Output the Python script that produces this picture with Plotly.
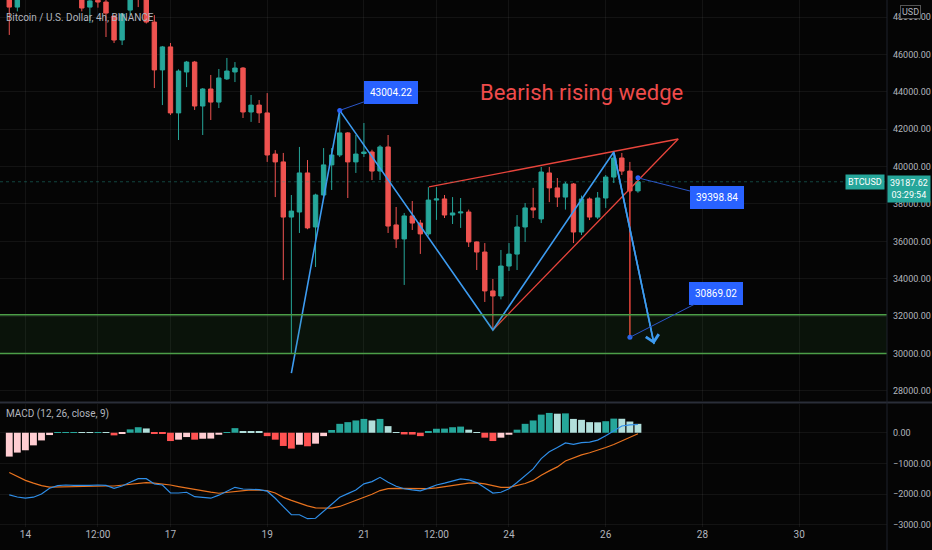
import plotly.graph_objects as go

# 4h candles, May 13 16:00 -> May 26 16:00 (index 0..78)
opens = [49600, 48530, 49300, 50200, 50900, 50300, 49800, 50100, 49500, 49400,
         48530, 48900, 48800, 48050, 46770, 48370, 49300, 49050, 47730, 45170,
         46400, 42870, 45060, 45590, 43240, 44150, 43450, 44690, 45060, 45270,
         42920, 43290, 42870, 40670, 40250, 37300, 37570, 39660, 36770, 38480,
         40090, 40620, 41800, 40250, 40700, 40780, 39760, 41050, 36880, 36130,
         37360, 36980, 36400, 38210, 38270, 37410, 37520, 37570, 35970, 35430,
         33350, 33080, 34680, 35320, 36770, 37790, 37200, 39660, 38860, 38370,
         39070, 36500, 38270, 37300, 38320, 39440, 40460, 39760, 38700]
highs = [49800, 49700, 50500, 51300, 51400, 50800, 50400, 50300, 49900, 49600,
         49000, 49100, 49000, 48100, 48200, 49300, 49500, 49200, 48100, 46450,
         46610, 45200, 45650, 45650, 44200, 44900, 45220, 45810, 45590, 45320,
         43830, 43560, 43930, 40880, 40730, 38480, 41050, 40350, 38550, 40990,
         40990, 43004, 41850, 41690, 42330, 40900, 41150, 41690, 37840, 37520,
         38160, 37150, 38900, 38900, 38480, 38370, 38320, 37700, 36000, 35910,
         33990, 35540, 35910, 37410, 38050, 38860, 39980, 39980, 39390, 39180,
         39120, 38450, 38350, 38640, 39550, 40780, 40730, 40250, 39390]
lows = [47040, 48300, 49100, 49900, 50000, 49600, 49300, 49200, 49000, 48300,
        47680, 48500, 46930, 46610, 46500, 48100, 48530, 47650, 44200, 43290,
        42760, 41420, 44250, 43030, 41690, 42490, 43130, 44630, 44520, 42600,
        42390, 42330, 40250, 38370, 33930, 30000, 36450, 36650, 34630, 38400,
        38750, 40510, 38320, 39660, 40510, 39280, 39280, 36450, 35650, 33670,
        36610, 35330, 36300, 37150, 37250, 36930, 36720, 35700, 34470, 32760,
        31260, 32900, 34420, 34470, 35970, 37250, 36980, 38100, 37840, 37700,
        35910, 36340, 37140, 37200, 37790, 39120, 39550, 38590, 38600]
closes = [48530, 49300, 50200, 50900, 50300, 49800, 50100, 49500, 49400, 48480,
          48860, 48800, 48210, 46770, 48160, 49100, 49050, 47730, 45170, 46400,
          42870, 45110, 45590, 43240, 44150, 43450, 44740, 45110, 45270, 42920,
          43290, 42870, 40620, 40250, 37300, 37620, 39660, 36720, 38480, 40090,
          40620, 41800, 40250, 40670, 40780, 39760, 41050, 36820, 36130, 37360,
          36980, 36400, 38210, 38270, 37410, 37520, 37570, 35970, 35430, 33350,
          33080, 34680, 35320, 36770, 37790, 37680, 39710, 38860, 38370, 39070,
          36500, 38270, 37300, 38320, 39440, 40460, 39760, 38700, 39187.62]

macd = [-2021, -2090, -2129, -2096, -1990, -1806, -1720, -1699, -1710, -1720,
        -1710, -1699, -1710, -1806, -1731, -1610, -1494, -1494, -1666, -1700,
        -1956, -1960, -1935, -2080, -2100, -2129, -2030, -1900, -1774, -1830,
        -1840, -1850, -1900, -2129, -2400, -2666, -2666, -2795, -2780, -2560,
        -2350, -2100, -1980, -1860, -1660, -1590, -1450, -1610, -1740, -1820,
        -1860, -1892, -1800, -1700, -1640, -1580, -1500, -1530, -1620, -1790,
        -1960, -1935, -1820, -1620, -1400, -1175, -840, -620, -480, -330,
        -375, -320, -303, -240, -100, 60, 220, 258, 269]
signal = [-1290, -1430, -1550, -1640, -1720, -1765, -1760, -1740, -1731, -1731,
          -1731, -1731, -1731, -1731, -1700, -1680, -1650, -1623, -1640, -1660,
          -1700, -1750, -1800, -1840, -1890, -1930, -1967, -1940, -1900, -1880,
          -1860, -1870, -1880, -1960, -2100, -2200, -2300, -2380, -2440, -2451,
          -2450, -2397, -2300, -2210, -2100, -2000, -1880, -1820, -1806, -1806,
          -1810, -1825, -1820, -1790, -1750, -1720, -1685, -1640, -1630, -1660,
          -1720, -1774, -1774, -1720, -1650, -1550, -1380, -1240, -1110, -920,
          -820, -720, -650, -570, -480, -380, -260, -140, -32]
hist = [-775, -645, -570, -410, -250, -75, 10, 15, 20, 10,
        5, 15, 8, -85, -30, 110, 180, 140, -30, -35,
        -270, -225, -140, -225, -195, -190, -65, 15, 150, 50,
        45, 40, -110, -225, -430, -515, -390, -440, -355, -110,
        90, 290, 345, 400, 450, 400, 450, 215, 5, -55,
        -60, -110, 55, 130, 135, 180, 200, 100, 10, -160,
        -270, -160, -65, 100, 290, 400, 590, 645, 620, 630,
        450, 420, 345, 340, 375, 460, 455, 365, 290]

tick_pos = [2, 11, 20, 32, 44, 53, 62, 74, 86, 98]
tick_text = ["14", "12:00", "17", "19", "21", "12:00", "24", "26", "28", "30"]
price_ticks = [28000, 30000, 32000, 34000, 36000, 38000, 40000, 42000, 44000, 46000, 48000]
macd_ticks = [0, -1000, -2000, -3000]

# drawings
zig_x = [35, 41, 60, 75]
zig_y = [28950, 43004.22, 31260, 40780]
arrow_end = (80, 30510)
wedge_top_x = [52.07, 83]
wedge_top_y = [38910, 41476]
wedge_low_x = [60, 83]
wedge_low_y = [31260, 41476]
target_x = [77, 77]
target_y = [39398.84, 30869.02]
zone_low, zone_high = 30000, 32070
last_price = 39187.62

UP = "#26a69a"
DOWN = "#ef5350"
BLUE = "#3d9bf0"
LABEL_BLUE = "#2962ff"
RED_LINE = "#e8453c"
TXT = "#b2b5be"
GRID = "rgba(255,255,255,0.06)"
BG = "#050505"
FONT = "Roboto, sans-serif"

idx = list(range(len(closes)))

# histogram colours: TradingView rule (grow/fall above/below zero)
bar_colors = []
for i, v in enumerate(hist):
    prev = hist[i - 1] if i > 0 else v
    if v >= 0:
        bar_colors.append(UP if v >= prev else "#b2dfdb")
    else:
        bar_colors.append("#ff5252" if v < prev else "#ffcdd2")

fig = go.Figure()

fig.add_trace(go.Candlestick(
    x=idx, open=opens, high=highs, low=lows, close=closes,
    increasing=dict(line=dict(color=UP, width=1), fillcolor=UP),
    decreasing=dict(line=dict(color=DOWN, width=1), fillcolor=DOWN),
    whiskerwidth=0, showlegend=False, hoverinfo="skip",
))

fig.add_trace(go.Bar(x=idx, y=hist, marker=dict(color=bar_colors, line=dict(width=0)),
                     yaxis="y2", showlegend=False, hoverinfo="skip"))
fig.add_trace(go.Scatter(x=idx, y=signal, mode="lines", line=dict(color="#e8731f", width=1.2),
                         yaxis="y2", showlegend=False, hoverinfo="skip"))
fig.add_trace(go.Scatter(x=idx, y=macd, mode="lines", line=dict(color="#2f8ee8", width=1.2),
                         yaxis="y2", showlegend=False, hoverinfo="skip"))

# support zone
fig.add_hrect(y0=zone_low, y1=zone_high, yref="y", fillcolor="rgba(60,150,60,0.10)", line_width=0)
for lvl in (zone_low, zone_high):
    fig.add_hline(y=lvl, yref="y", line=dict(color="#4c9e48", width=1.5))

# last price dotted line
fig.add_hline(y=last_price, yref="y", line=dict(color=UP, width=1, dash="dot"), opacity=0.4)

# wedge
fig.add_trace(go.Scatter(x=wedge_top_x, y=wedge_top_y, mode="lines",
                         line=dict(color=RED_LINE, width=1.3), showlegend=False, hoverinfo="skip"))
fig.add_trace(go.Scatter(x=wedge_low_x, y=wedge_low_y, mode="lines",
                         line=dict(color=RED_LINE, width=1.3), showlegend=False, hoverinfo="skip"))
fig.add_trace(go.Scatter(x=target_x, y=target_y, mode="lines",
                         line=dict(color=RED_LINE, width=1.5), showlegend=False, hoverinfo="skip"))

# zigzag
fig.add_trace(go.Scatter(x=zig_x + [arrow_end[0]], y=zig_y + [arrow_end[1]], mode="lines",
                         line=dict(color=BLUE, width=1.6), showlegend=False, hoverinfo="skip"))
fig.add_annotation(x=arrow_end[0], y=arrow_end[1], ax=zig_x[-1], ay=zig_y[-1],
                   axref="x", ayref="y", xref="x", yref="y", text="",
                   showarrow=True, arrowhead=4, arrowsize=1.6, arrowwidth=1.6, arrowcolor=BLUE)

# price labels
label_pts = [(41, 43004.22, 51, -18), (78, 39398.84, 79, 20), (77, 30869.02, 86, -44)]
fig.add_trace(go.Scatter(x=[p[0] for p in label_pts], y=[p[1] for p in label_pts], mode="markers",
                         marker=dict(color=LABEL_BLUE, size=5), showlegend=False, hoverinfo="skip"))
for px_, py_, dx, dy in label_pts:
    fig.add_annotation(x=px_, y=py_, xref="x", yref="y", text=f"{py_:.2f}",
                       ax=dx, ay=dy, showarrow=True, arrowhead=0, arrowwidth=1,
                       arrowcolor="#2b56c8", bgcolor=LABEL_BLUE, bordercolor=LABEL_BLUE,
                       borderpad=5, font=dict(family=FONT, size=10, color="white"))

fig.add_annotation(x=71, y=43950, xref="x", yref="y", text="Bearish rising wedge",
                   showarrow=False, font=dict(family=FONT, size=22, color="#ef4b4b"))

# header texts
fig.add_annotation(x=0.005, y=0.966, xref="paper", yref="paper", xanchor="left", yanchor="middle",
                   text="Bitcoin / U.S. Dollar, 4h, BINANCE", showarrow=False,
                   font=dict(family=FONT, size=10, color=TXT))
fig.add_annotation(x=0.005, y=0.214, xref="paper", yref="paper", xanchor="left", yanchor="middle",
                   text="MACD (12, 26, close, 9)", showarrow=False,
                   font=dict(family=FONT, size=10, color=TXT))

# right scale badges
fig.add_annotation(x=1.026, y=0.977, xref="paper", yref="paper", xanchor="center", yanchor="middle",
                   text="USD", showarrow=False, bgcolor=BG, bordercolor="#555", borderwidth=1,
                   borderpad=1, font=dict(family=FONT, size=9, color=TXT))
fig.add_annotation(x=1.0, y=last_price, xref="paper", yref="y", xanchor="left", yanchor="top",
                   yshift=7, text=f"{last_price:.2f}<br>03:29:54", showarrow=False, align="center",
                   bgcolor=UP, borderpad=2, font=dict(family=FONT, size=9, color="white"))
fig.add_annotation(x=0.998, y=last_price, xref="paper", yref="y", xanchor="right", yanchor="middle",
                   text="BTCUSD", showarrow=False, bgcolor=UP, borderpad=2,
                   font=dict(family=FONT, size=9, color="white"))

# pane separators
fig.add_shape(type="line", xref="paper", yref="paper", x0=0, x1=1.06, y0=0.2362, y1=0.2362,
              line=dict(color="#2a2e39", width=2))
fig.add_shape(type="line", xref="paper", yref="paper", x0=1, x1=1, y0=-0.05, y1=1,
              line=dict(color="#1e222d", width=1))

fig.update_layout(
    width=932, height=550,
    margin=dict(l=0, r=45, t=0, b=23),
    paper_bgcolor=BG, plot_bgcolor=BG,
    bargap=0.15, boxgap=0.22,
    font=dict(family=FONT, color=TXT, size=9),
    xaxis=dict(range=[-1.15, 108.9], anchor="y2", tickvals=tick_pos, ticktext=tick_text,
               showgrid=True, gridcolor=GRID, zeroline=False, showline=False,
               rangeslider=dict(visible=False), tickfont=dict(size=10, color=TXT), ticks=""),
    yaxis=dict(domain=[0.2391, 1], range=[27464, 48909], side="right", tickvals=price_ticks,
               tickformat=".2f", showgrid=True, gridcolor=GRID, zeroline=False,
               ticks="", ticklabelstandoff=5, tickfont=dict(size=9, color=TXT)),
    yaxis2=dict(domain=[0, 0.2334], range=[-3065, 935], side="right", tickvals=macd_ticks,
                tickformat=".2f", showgrid=True, gridcolor=GRID, zeroline=False,
                ticks="", ticklabelstandoff=5, tickfont=dict(size=9, color=TXT), anchor="x"),
)

# page body margin would shift the 932x550 figure inside the window
fig.write_html("out.html", config={"displayModeBar": False},
               post_script="document.body.style.margin='0px';"
                           "document.body.style.background='#050505';")
